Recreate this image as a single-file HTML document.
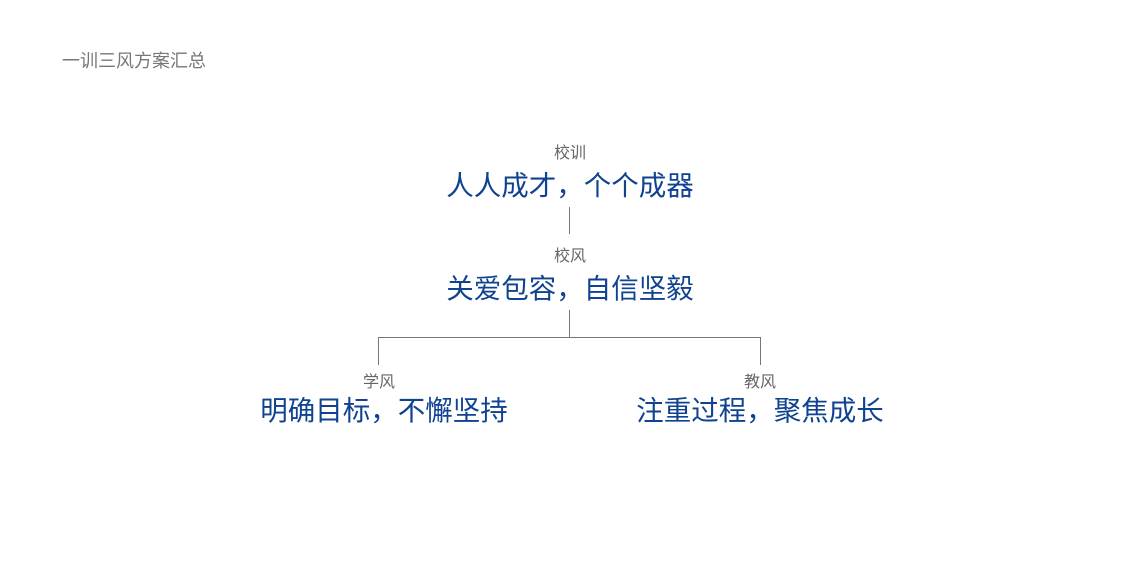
<!DOCTYPE html>
<html><head><meta charset="utf-8"><style>
body{margin:0;width:1135px;height:568px;background:#fff;position:relative;overflow:hidden;font-family:"Liberation Sans","Noto Sans CJK SC",sans-serif}
.t{position:absolute;white-space:nowrap;transform:translateX(-50%);line-height:1}
.s{font-size:16px;color:#666}
.b{font-size:27.5px;color:#0f4290}
.l{position:absolute;background:#777}
</style></head><body>
<div style="position:absolute;left:62px;top:52px;font-size:18px;color:#777;line-height:1">一训三风方案汇总</div>
<div class="t s" style="left:570px;top:146px">校训</div>
<div class="t b" style="left:570px;top:172px">人人成才，个个成器</div>
<div class="l" style="left:569px;top:207px;width:1px;height:27px"></div>
<div class="t s" style="left:570px;top:249px">校风</div>
<div class="t b" style="left:570px;top:275px">关爱包容，自信坚毅</div>
<div class="l" style="left:569px;top:310px;width:1px;height:28px"></div>
<div class="l" style="left:378px;top:337px;width:383px;height:1px"></div>
<div class="l" style="left:378px;top:337px;width:1px;height:28px"></div>
<div class="l" style="left:760px;top:337px;width:1px;height:28px"></div>
<div class="t s" style="left:379px;top:375px">学风</div>
<div class="t b" style="left:384px;top:397px">明确目标，不懈坚持</div>
<div class="t s" style="left:760px;top:375px">教风</div>
<div class="t b" style="left:760px;top:397px">注重过程，聚焦成长</div>
</body></html>
